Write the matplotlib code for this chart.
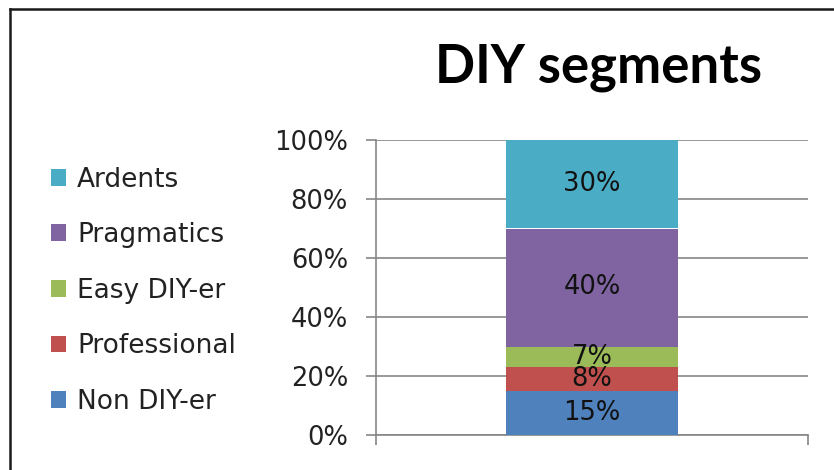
import matplotlib.pyplot as plt
from matplotlib.lines import Line2D
from matplotlib.patches import Patch

segments = ["Non DIY-er", "Professional", "Easy DIY-er", "Pragmatics", "Ardents"]
shares = [15, 8, 7, 40, 30]
colors = ["#4F81BD", "#C0504D", "#9BBB59", "#8064A2", "#4BACC6"]
yticks = [0, 20, 40, 60, 80, 100]

plt.rcParams["font.family"] = ["DejaVu Sans"]

fig = plt.figure(figsize=(8.34, 4.70), dpi=100)
ax = fig.add_axes([376 / 834, 1 - 435 / 470, 432 / 834, 295 / 470])

bottom = 0
for name, val, col in zip(segments, shares, colors):
    ax.bar(0, val, width=0.398, bottom=bottom, color=col, label=name, zorder=3)
    ax.text(0, bottom + val / 2, f"{val}%", ha="center", va="center",
            fontsize=18.5, color="#111111", zorder=4)
    bottom += val

ax.set_xlim(-0.5, 0.5)
ax.set_ylim(0, 100)
ax.set_yticks(yticks)
ax.set_yticklabels([f"{t}%" for t in yticks], fontsize=18.5, color="#222222")
ax.set_xticks([-0.5, 0.5])
ax.set_xticklabels([])
ax.tick_params(axis="y", length=7.2, width=1.2, color="#868686", pad=13)
ax.tick_params(axis="x", length=7.2, width=1.2, color="#868686")
ax.yaxis.grid(True, color="#868686", linewidth=1.2, zorder=0)
for s in ["top", "right"]:
    ax.spines[s].set_visible(False)
for s in ["left", "bottom"]:
    ax.spines[s].set_color("#868686")
    ax.spines[s].set_linewidth(1.2)

handles = [Patch(facecolor=c, edgecolor="none") for c in colors][::-1]
fig.legend(handles, segments[::-1], loc="upper left", bbox_to_anchor=(40 / 834, 1 - 156 / 470),
           frameon=False, fontsize=19, handlelength=0.6, handleheight=0.6,
           handletextpad=0.4, labelspacing=1.12, borderaxespad=0,
           labelcolor="#222222")

fig.text(599 / 834, 1 - 83 / 470, "DIY segments", ha="center", va="baseline",
         fontsize=38, fontweight="bold", color="black", family=["Lato", "DejaVu Sans"])

# outer chart frame
fig.add_artist(Line2D([10 / 834, 10 / 834], [0, 1 - 9 / 470], transform=fig.transFigure,
                      color="#1a1a1a", linewidth=1.8))
fig.add_artist(Line2D([10 / 834, 1], [1 - 9 / 470, 1 - 9 / 470], transform=fig.transFigure,
                      color="#1a1a1a", linewidth=1.8))

fig.savefig("out.png", dpi=100)
